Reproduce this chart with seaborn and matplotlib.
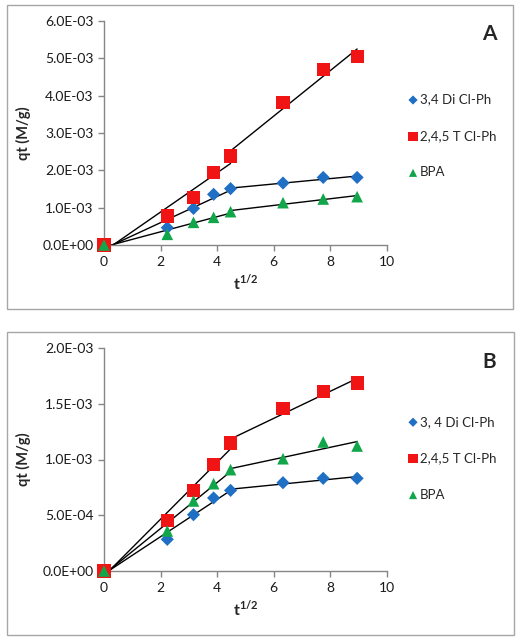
import numpy as np
import pandas as pd
import matplotlib
matplotlib.use("Agg")
import matplotlib.pyplot as plt
from matplotlib.patches import Rectangle
from matplotlib.ticker import FuncFormatter
import seaborn as sns

sns.set_style("white")
plt.rcParams['font.family'] = ['Lato', 'DejaVu Sans']
plt.rcParams['mathtext.fontset'] = 'custom'
plt.rcParams['mathtext.bf'] = 'Lato:bold'
plt.rcParams['mathtext.rm'] = 'Lato'

# ---- data ----
t_half = [0, 2.236, 3.162, 3.873, 4.472, 6.325, 7.746, 8.944]

a_dicl = [0, 0.464e-3, 0.98e-3, 1.357e-3, 1.51e-3, 1.66e-3, 1.81e-3, 1.81e-3]
a_tcl = [0, 0.777e-3, 1.277e-3, 1.946e-3, 2.384e-3, 3.81e-3, 4.69e-3, 5.06e-3]
a_bpa = [0, 0.286e-3, 0.607e-3, 0.741e-3, 0.893e-3, 1.134e-3, 1.232e-3, 1.295e-3]

b_dicl = [0, 0.284e-3, 0.505e-3, 0.655e-3, 0.723e-3, 0.792e-3, 0.831e-3, 0.831e-3]
b_tcl = [0, 0.454e-3, 0.723e-3, 0.954e-3, 1.148e-3, 1.456e-3, 1.611e-3, 1.686e-3]
b_bpa = [0, 0.359e-3, 0.628e-3, 0.783e-3, 0.909e-3, 1.007e-3, 1.157e-3, 1.121e-3]

a_names = ["3,4 Di Cl-Ph", "2,4,5 T Cl-Ph", "BPA"]
b_names = ["3, 4 Di Cl-Ph", "2,4,5 T Cl-Ph", "BPA"]

a_yticks = [0, 1e-3, 2e-3, 3e-3, 4e-3, 5e-3, 6e-3]
b_yticks = [0, 5e-4, 1e-3, 1.5e-3, 2e-3]
x_ticks = [0, 2, 4, 6, 8, 10]

colors = ["#1F6FC5", "#F01414", "#12A64A"]
markers = ["D", "s", "^"]
sizes = [45, 90, 70]

fig = plt.figure(figsize=(5.21, 6.44), dpi=100)
W, H = 521, 644

def fig_rect(l, t, r, b):
    return [l / W, 1 - b / H, (r - l) / W, (b - t) / H]

# panel borders
for (l, t, r, b) in [(7, 5, 513, 309), (7, 332, 514, 635)]:
    fig.add_artist(Rectangle((l / W, 1 - b / H), (r - l) / W, (b - t) / H,
                             transform=fig.transFigure, fill=False,
                             edgecolor="#A6A6A6", linewidth=1.0))

axcol = "#868686"
fmt = FuncFormatter(lambda v, p: "{:.1E}".format(v))

def draw(ax, series, names, yticks, letter, letter_y, legend_y):
    ymax = yticks[-1]
    for vals in series:
        df = pd.DataFrame({"x": t_half, "y": vals})
        for part in (df.iloc[:5], df.iloc[4:]):
            sns.regplot(data=part, x="x", y="y", ax=ax, scatter=False, ci=None,
                        truncate=True, color="black", line_kws={"lw": 1.0, "zorder": 2})
    for vals, c, m, s, n in zip(series, colors, markers, sizes, names):
        sns.scatterplot(x=t_half, y=vals, ax=ax, marker=m, s=s, color=c,
                        edgecolor="none", linewidth=0, zorder=3, label=n, clip_on=False)
    ax.set_xlim(0, 10)
    ax.set_ylim(0, ymax)
    ax.set_xticks(x_ticks)
    ax.set_yticks(yticks)
    ax.yaxis.set_major_formatter(fmt)
    for sp in ["top", "right"]:
        ax.spines[sp].set_visible(False)
    for sp in ["left", "bottom"]:
        ax.spines[sp].set_color(axcol)
        ax.spines[sp].set_linewidth(1.0)
    ax.tick_params(axis="both", which="major", direction="out", length=4,
                   color=axcol, labelsize=10, labelcolor="#1a1a1a", width=1.0,
                   bottom=True, left=True)
    ax.tick_params(axis="x", pad=4)
    ax.set_ylabel("qt (M/g)", fontsize=10.5, fontweight="bold", labelpad=8)
    ax.set_xlabel(r"t$^{\mathbf{1/2}}$", fontsize=11.5, fontweight="bold", labelpad=3)
    ax.text(1.36, letter_y, letter, transform=ax.transAxes, fontsize=15,
            fontweight="bold", ha="center", va="center")
    ax.legend(loc="upper left", bbox_to_anchor=(1.05, legend_y), frameon=False,
              fontsize=9.5, handletextpad=0.0, labelspacing=1.85,
              handlelength=1.0, borderaxespad=0, markerscale=0.7)
    return ax

axA = fig.add_axes(fig_rect(104, 21, 387, 245))
draw(axA, [a_dicl, a_tcl, a_bpa], a_names, a_yticks, "A", 0.94, 0.70)

axB = fig.add_axes(fig_rect(104, 348, 387, 571))
draw(axB, [b_dicl, b_tcl, b_bpa], b_names, b_yticks, "B", 0.935, 0.72)

fig.savefig("out.png", dpi=100)
